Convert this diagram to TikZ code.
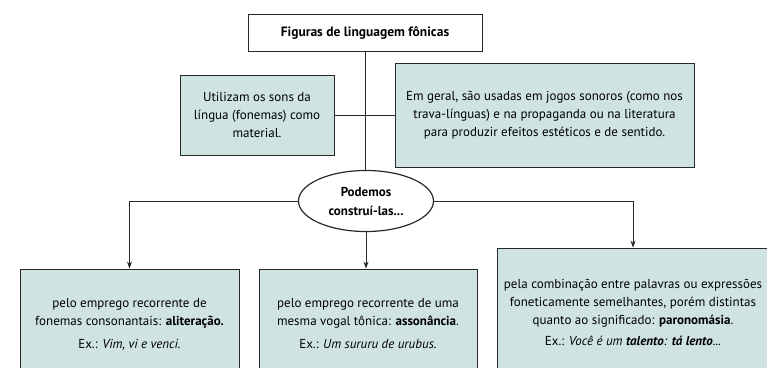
\documentclass[tikz,border=0pt]{standalone}
\usepackage{fontspec}
\setmainfont{PT Sans}
\usepackage{tikz}
\usetikzlibrary{shapes.geometric,arrows.meta}
\definecolor{paleteal}{RGB}{207,228,226}
\definecolor{boxline}{RGB}{40,40,40}

\begin{document}
\begin{tikzpicture}[x=1pt,y=-1pt]
\tikzstyle{titlebox}=[rectangle,draw=boxline,line width=0.8pt,fill=white,minimum width=234pt,minimum height=37pt,font=\fontsize{13.5}{15}\selectfont\bfseries]
\tikzstyle{infobox}=[rectangle,draw=boxline,line width=0.8pt,fill=paleteal,align=center,inner sep=0pt,font=\fontsize{13}{18}\selectfont]
\tikzstyle{hub}=[ellipse,draw=boxline,line width=1.2pt,fill=white,minimum width=135pt,minimum height=61pt,inner sep=0pt,align=center,font=\fontsize{13}{19}\selectfont\bfseries]
\tikzstyle{link}=[draw=boxline,line width=0.7pt]
\tikzstyle{branch}=[link,-{Stealth[length=7pt,width=5pt]}]
\useasboundingbox (0,0) rectangle (767,367);
\clip (0,0) rectangle (767,367);
\node [titlebox] (title) at (365,32.5) {Figuras de linguagem fônicas};
\node [infobox,minimum width=154pt,minimum height=80pt] (uses) at (257,115) {Utilizam os sons da\\língua (fonemas) como\\material.};
\node [infobox,minimum width=299pt,minimum height=104pt] (context) at (544.5,115) {Em geral, são usadas em jogos sonoros (como nos\\trava-línguas) e na propaganda ou na literatura\\para produzir efeitos estéticos e de sentido.};
\node [hub] (build) at (366,201) {Podemos\\construí-las...};
\node [infobox,minimum width=219pt,minimum height=110pt] (allit) at (129.5,324) {pelo emprego recorrente de\\fonemas consonantais: \textbf{aliteração.}\\[5pt]Ex.: \textit{Vim, vi e venci.}};
\node [infobox,minimum width=218pt,minimum height=110pt] (asson) at (368,324) {pelo emprego recorrente de uma\\mesma vogal tônica: \textbf{assonância}.\\[5pt]Ex.: \textit{Um sururu de urubus.}};
\node [infobox,minimum width=272pt,minimum height=128pt] (paron) at (633,312) {pela combinação entre palavras ou expressões\\foneticamente semelhantes, porém distintas\\quanto ao significado: \textbf{paronomásia}.\\[3pt]Ex.: \textit{Você é um \textbf{talento}: \textbf{tá lento}...}};
\draw [link] (title.south) -- (title.south |- build.north);
\draw [link] (uses.east) -- (context.west);
\draw [branch] (build.west) -| (allit.north);
\draw [branch] (build.south) -- (build.south |- asson.north);
\draw [branch] (build.east) -| (paron.north);
\end{tikzpicture}
\end{document}
